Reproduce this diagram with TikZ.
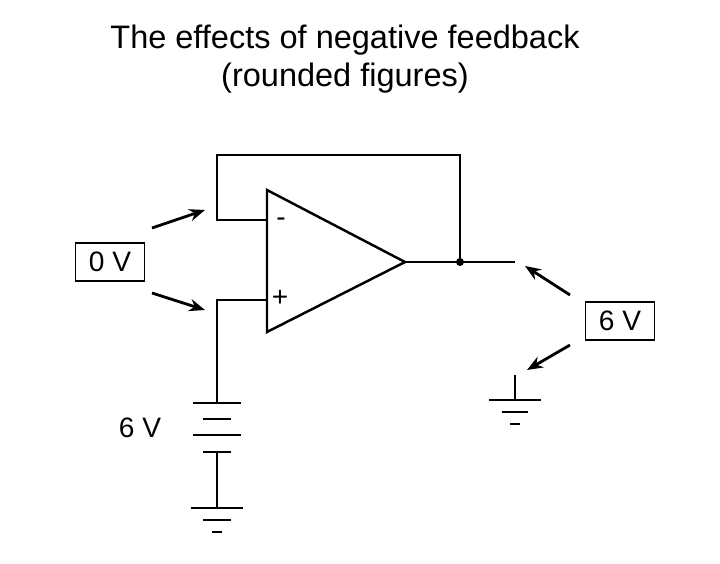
\documentclass[tikz,border=0pt]{standalone}
\usepackage{fontspec}
\setmainfont{Liberation Sans}
\usetikzlibrary{arrows.meta}
\begin{document}
\begin{tikzpicture}[x=0.02cm, y=-0.02cm, line width=1.4pt, font=\fontsize{16}{19}\selectfont]
	\tikzstyle{box}=[draw, rectangle, line width=1pt, minimum width=1.38cm, minimum height=0.76cm, inner sep=0pt]
	\tikzstyle{pointer}=[-{Stealth[length=9pt,width=7pt]}, line width=1.6pt]
	\tikzstyle{lbl}=[inner sep=0pt]
	\tikzstyle{title}=[inner sep=0pt, font=\fontsize{18.5}{22}\selectfont]
	\useasboundingbox (0,0) rectangle (720,564);

	\node[title] (t1) at (345,40) {The effects of negative feedback};
	\node[title] (t2) at (345,78) {(rounded figures)};

	% op-amp
	\coordinate (ul) at (267,190);
	\coordinate (ll) at (267,332);
	\coordinate (out) at (405,262);
	\draw (ul) -- (out) -- (ll) -- cycle;
	\node[lbl] (minus) at (281,222) {-};
	\node[lbl] (plus) at (280,298) {+};

	% feedback loop
	\coordinate (inm) at (267,220);
	\coordinate (fb) at (460,262);
	\coordinate (vout) at (515,262);
	\draw (inm) -- (217,220) -- (217,155) -- (460,155) -- (fb);
	\draw (out) -- (vout);
	\fill (fb) circle (4);

	% non-inverting input and battery
	\coordinate (inp) at (267,300);
	\draw (inp) -- (217,300) -- (217,403);
	\draw (193,403) -- (241,403);
	\draw (203,419) -- (231,419);
	\draw (193,435) -- (241,435);
	\draw (203,452) -- (231,452);
	\draw (217,452) -- (217,508);
	\draw (191,508) -- (243,508);
	\draw (203,520) -- (231,520);
	\draw (212,532) -- (222,532);
	\node[lbl] (vbat) at (140,428) {6 V};

	% output ground
	\coordinate (gnd) at (515,400);
	\draw (515,375) -- (gnd);
	\draw (489,400) -- (541,400);
	\draw (502,412) -- (528,412);
	\draw (510,424) -- (520,424);

	% readings
	\node[box] (vin) at (110,262) {0 V};
	\node[box] (vo) at (620,321) {6 V};
	\draw[pointer] (152,228) -- (205,210);
	\draw[pointer] (152,293) -- (205,310);
	\draw[pointer] (570,295) -- (525,266);
	\draw[pointer] (570,345) -- (527,370);
\end{tikzpicture}
\end{document}
